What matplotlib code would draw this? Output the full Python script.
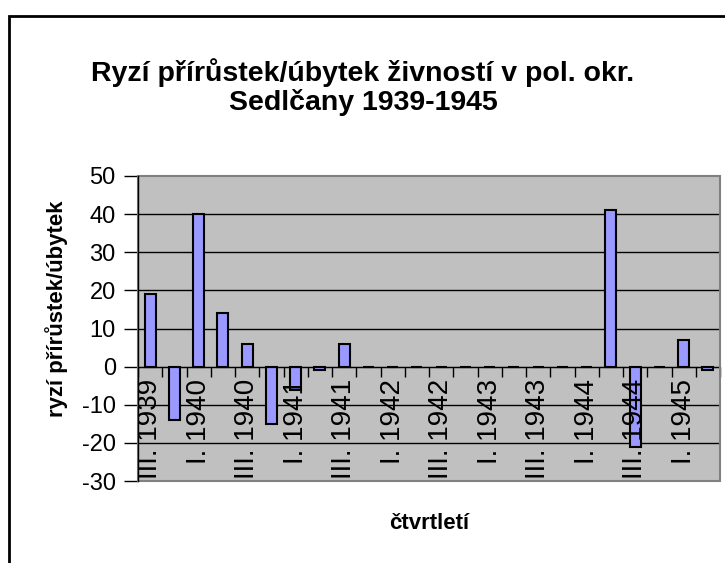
import matplotlib
matplotlib.use('Agg')
import matplotlib.pyplot as plt
from matplotlib.patches import Rectangle

plt.rcParams['font.family'] = ['Liberation Sans', 'DejaVu Sans']
plt.rcParams['axes.unicode_minus'] = False

# quarters III/1939 .. II/1945
quarters = ['III. 1939', 'IV. 1939',
            'I. 1940', 'II. 1940', 'III. 1940', 'IV. 1940',
            'I. 1941', 'II. 1941', 'III. 1941', 'IV. 1941',
            'I. 1942', 'II. 1942', 'III. 1942', 'IV. 1942',
            'I. 1943', 'II. 1943', 'III. 1943', 'IV. 1943',
            'I. 1944', 'II. 1944', 'III. 1944', 'IV. 1944',
            'I. 1945', 'II. 1945']
values = [19, -14, 40, 14, 6, -15, -6, -1, 6, 0,
          0, 0, 0, 0, 0, 0, 0, 0, 0, 41, -21, 0, 7, -1]
yticks = [-30, -20, -10, 0, 10, 20, 30, 40, 50]

fig = plt.figure(figsize=(7.25, 5.63), dpi=100)
ax = fig.add_axes([138 / 725, 82 / 563, 582 / 725, 305 / 563])
ax.set_facecolor('#C0C0C0')

x = list(range(len(quarters)))
for t in yticks[1:-1]:
    ax.axhline(t, color='black', lw=1, zorder=0.5)
ax.bar(x, values, width=0.45, color='#9999FF', edgecolor='black', lw=1.5, zorder=0.8)

ax.set_xlim(-0.5, len(quarters) - 0.5)
ax.set_ylim(-30, 50)
ax.set_yticks(yticks)
ax.tick_params(axis='y', labelsize=17, length=10, width=1, pad=6)

ax.set_xticks(x[::2])
ax.set_xticklabels(quarters[::2])
ax.set_xticks([i - 0.5 for i in range(len(quarters) + 1)], minor=True)
ax.tick_params(axis='x', which='major', length=0, pad=9, labelsize=20, labelrotation=90)
ax.tick_params(axis='x', which='minor', length=7, width=1, direction='out')
ax.xaxis.set_zorder(2.6)

ax.spines['bottom'].set_position(('data', 0))
ax.spines['top'].set_visible(False)
ax.spines['right'].set_visible(False)
ax.spines['left'].set_linewidth(1)
ax.add_patch(Rectangle((0, 0), 1, 1, transform=ax.transAxes, fill=False,
                       edgecolor='#808080', lw=1.5, zorder=3, clip_on=False))
ax.spines['left'].set_zorder(4)

fig.text(0.5007, 0.8455, 'Ryzí přírůstek/úbytek živností v pol. okr.\nSedlčany 1939-1945',
         ha='center', va='center', fontsize=20.5, fontweight='bold', linespacing=1.07)
fig.text(0.0786, 0.451, 'ryzí přírůstek/úbytek', rotation=90, ha='center', va='center',
         fontsize=16, fontweight='bold')
fig.text(0.5917, 0.071, 'čtvrtletí', ha='center', va='center', fontsize=16, fontweight='bold')

fig.patches.append(Rectangle((9 / 725, -0.05), 1.1, 1 - 16 / 563 + 0.05,
                             transform=fig.transFigure, fill=False,
                             edgecolor='black', lw=2))

fig.savefig('out.png', dpi=100)
